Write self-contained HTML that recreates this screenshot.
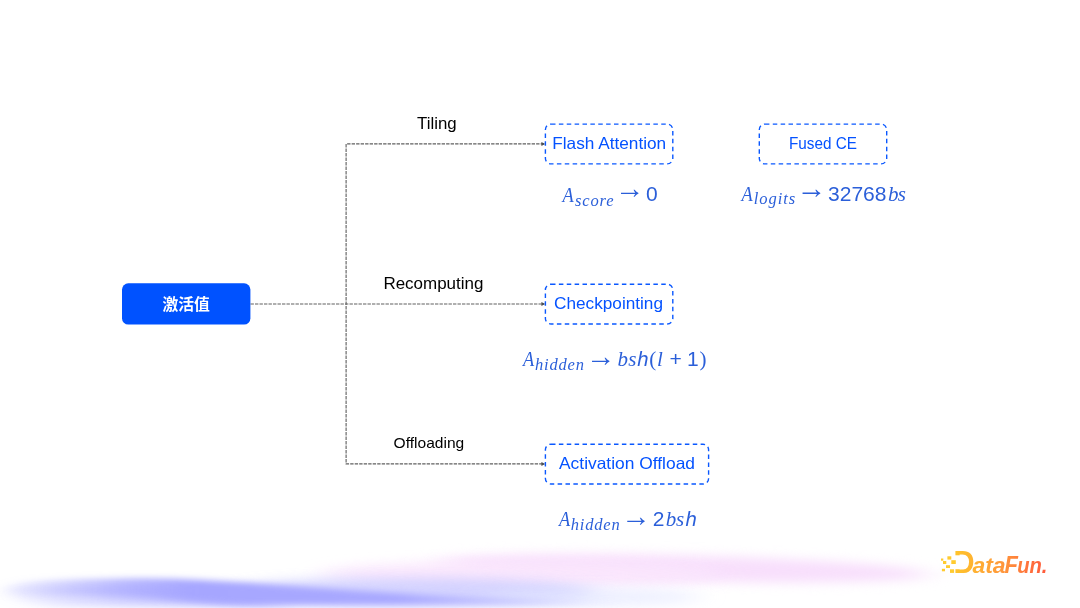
<!DOCTYPE html>
<html lang="zh">
<head>
<meta charset="utf-8">
<title>激活值</title>
<style>
html,body{margin:0;padding:0;background:#fff;}
body{width:1080px;height:608px;overflow:hidden;position:relative;font-family:"Liberation Sans","Noto Sans CJK SC",sans-serif;}
svg{will-change:transform;position:absolute;left:0;top:0;display:block;}
.sans{font-family:"Liberation Sans","Noto Sans CJK SC",sans-serif;}
.cjk{font-family:"Liberation Sans","Noto Sans CJK SC",sans-serif;font-weight:bold;}
.mi{font-family:"Liberation Serif",serif;font-style:italic;}
.gl{stroke:#606060;stroke-width:1.125;stroke-dasharray:3.375 1.125;fill:none;}
.bx{stroke:#0a58ff;stroke-width:1.4;stroke-dasharray:4.5 3.375;fill:none;}
.bt{fill:#0452ff;font-size:16.5px;}
.fm{fill:#2b5fd9;}
</style>
</head>
<body>
<svg width="1080" height="608" viewBox="0 0 1080 608">
<defs>
<filter id="bl2" x="-20%" y="-200%" width="140%" height="500%"><feGaussianBlur stdDeviation="14 6"/></filter>
<linearGradient id="lg" gradientUnits="userSpaceOnUse" x1="953" y1="0" x2="1046" y2="0"><stop offset="0" stop-color="#ffc62a"/><stop offset="0.5" stop-color="#ff9a3a"/><stop offset="1" stop-color="#ff5a3c"/></linearGradient>
<filter id="bl3" x="-10%" y="-300%" width="120%" height="700%"><feGaussianBlur stdDeviation="8 3.1"/></filter>
<linearGradient id="bg1" gradientUnits="userSpaceOnUse" x1="0" y1="0" x2="640" y2="0"><stop offset="0.01" stop-color="#b0b0ff" stop-opacity="0.22"/><stop offset="0.08" stop-color="#acacff" stop-opacity="0.45"/><stop offset="0.2" stop-color="#a8a8ff" stop-opacity="0.8"/><stop offset="0.3" stop-color="#a6a6ff" stop-opacity="1"/><stop offset="0.62" stop-color="#a8a8ff" stop-opacity="1"/><stop offset="0.8" stop-color="#b4b4ff" stop-opacity="0.6"/><stop offset="1" stop-color="#c0c0ff" stop-opacity="0"/></linearGradient>
<filter id="bl4" x="-20%" y="-200%" width="140%" height="500%"><feGaussianBlur stdDeviation="16 5.5"/></filter>
<filter id="bl5" x="-20%" y="-200%" width="140%" height="500%"><feGaussianBlur stdDeviation="12 4.5"/></filter>
</defs>
<!-- bottom decoration -->
<g id="deco">
<ellipse cx="684" cy="568.5" rx="245" ry="13" fill="#f8dffc" filter="url(#bl4)" transform="rotate(1.4 690 568)"/>
<ellipse cx="520" cy="574" rx="200" ry="13" fill="#fae6fd" opacity="0.9" filter="url(#bl2)"/>
<ellipse cx="410" cy="592" rx="185" ry="14" fill="#c6c6ff" opacity="0.75" filter="url(#bl2)"/>
<ellipse cx="590" cy="597" rx="110" ry="9" fill="#e2e6ff" opacity="0.6" filter="url(#bl2)"/>
<path d="M10 594 C40 587 120 585 190 590 C230 594 260 600 300 606 L60 606 C30 604 14 600 10 594 Z" fill="url(#bg1)" opacity="0.75" filter="url(#bl5)"/>
<path d="M6 590 C8 582 40 579.5 120 578.5 C180 577.5 220 581 290 586 C360 591 440 597 640 603.5 L640 604.8 L250 604.8 C225 604.5 200 602 160 598 C110 594 50 596 6 594 Z" fill="url(#bg1)" filter="url(#bl3)"/>
</g>
<!-- logo -->
<g id="logo">
<text><tspan x="953.4" y="572.8" font-size="32" font-weight="bold" class="sans" fill="url(#lg)" textLength="21" lengthAdjust="spacingAndGlyphs">D</tspan><tspan x="972.4" y="572.7" font-size="22.7" font-weight="bold" font-style="italic" class="sans" fill="url(#lg)" textLength="33.2" lengthAdjust="spacingAndGlyphs">ata</tspan><tspan x="1004.6" y="572.8" font-size="23" font-weight="bold" font-style="italic" class="sans" fill="url(#lg)" textLength="13.4" lengthAdjust="spacingAndGlyphs">F</tspan><tspan x="1017.2" y="572.7" font-size="22.7" font-weight="bold" font-style="italic" class="sans" fill="url(#lg)" textLength="30.2" lengthAdjust="spacingAndGlyphs">un.</tspan></text>
<rect x="952" y="555.3" width="8.4" height="13.9" fill="#fff"/>
<g fill="#ffcb2f">
<rect x="941" y="558.5" width="2.3" height="2.2"/>
<rect x="947.4" y="556.3" width="3.9" height="3.3"/>
<rect x="943" y="561" width="3.3" height="3"/>
<rect x="951.3" y="560.2" width="4.5" height="3.8"/>
<rect x="946" y="565.2" width="4" height="2.8"/>
<rect x="941.9" y="568.8" width="3.1" height="2.5"/>
<rect x="950" y="569.3" width="4.1" height="3.6"/>
</g>
</g>
<!-- connectors -->
<path class="gl" d="M250.5 304H544"/>
<path class="gl" d="M544 143.9H346.1V463.9H544"/>
<path d="M545.2 143.9l-3.8 -2v4z M545.2 304l-3.8 -2v4z M545.2 463.9l-3.8 -2v4z" fill="#505050"/>
<!-- root -->
<rect x="122" y="283.3" width="128.4" height="41.3" rx="6.3" fill="#0052ff"/>
<text class="cjk" x="186.2" y="309.6" font-size="15.8" fill="#fff" text-anchor="middle">激活值</text>
<!-- labels -->
<text class="sans" x="417" y="128.7" font-size="16" fill="#000" textLength="39.6" lengthAdjust="spacingAndGlyphs">Tiling</text>
<text class="sans" x="383.4" y="289" font-size="16" fill="#000" textLength="100" lengthAdjust="spacingAndGlyphs">Recomputing</text>
<text class="sans" x="393.6" y="447.6" font-size="15.55" fill="#000">Offloading</text>
<!-- boxes -->
<rect class="bx" x="545.4" y="124.1" width="127.4" height="39.8" rx="5.6"/>
<text class="sans bt" x="552.2" y="148.8" textLength="114" lengthAdjust="spacingAndGlyphs">Flash Attention</text>
<rect class="bx" x="759.3" y="124.1" width="127.4" height="39.8" rx="5.6"/>
<text class="sans bt" x="789" y="148.8" textLength="68" lengthAdjust="spacingAndGlyphs">Fused CE</text>
<rect class="bx" x="545.4" y="284.2" width="127.4" height="39.8" rx="5.6"/>
<text class="sans bt" x="554" y="309" textLength="109" lengthAdjust="spacingAndGlyphs">Checkpointing</text>
<rect class="bx" x="545.4" y="444.2" width="163.2" height="39.8" rx="5.6"/>
<text class="sans bt" x="559" y="468.8" textLength="136" lengthAdjust="spacingAndGlyphs">Activation Offload</text>
<!-- formulas -->
<g class="fm">
<!-- formula 1 -->
<text><tspan class="mi" x="562.6" y="201.8" font-size="21" textLength="11.2" lengthAdjust="spacingAndGlyphs">A</tspan><tspan class="mi" x="575" y="205.6" font-size="16.5" textLength="38.5" lengthAdjust="spacing">score</tspan> <tspan class="sans" x="615.1" y="197.9" font-size="29.5">→</tspan> <tspan class="sans" x="646" y="201.3" font-size="21">0</tspan></text>
<!-- formula 2 -->
<text><tspan class="mi" x="741.6" y="201.2" font-size="21" textLength="11.2" lengthAdjust="spacingAndGlyphs">A</tspan><tspan class="mi" x="753.8" y="204.2" font-size="16.5" textLength="41.3" lengthAdjust="spacing">logits</tspan> <tspan class="sans" x="796.6" y="197.5" font-size="30">→</tspan> <tspan class="sans" x="828" y="200.9" font-size="21" textLength="58.5" lengthAdjust="spacingAndGlyphs">32768</tspan><tspan class="mi" x="888" y="201" font-size="21" textLength="18" lengthAdjust="spacing">bs</tspan></text>
<!-- formula 3 -->
<text><tspan class="mi" x="523.1" y="365.9" font-size="21" textLength="11.2" lengthAdjust="spacingAndGlyphs">A</tspan><tspan class="mi" x="534.9" y="369.8" font-size="16.5" textLength="49" lengthAdjust="spacing">hidden</tspan> <tspan class="sans" x="586" y="366" font-size="29.5">→</tspan> <tspan class="mi" x="617.5" y="365.8" font-size="21" textLength="19" lengthAdjust="spacing">bs</tspan><tspan class="sans" x="637.2" y="365.8" font-size="20.3" font-style="italic">h</tspan><tspan x="649.3" y="365.8" font-size="21" font-family="'Liberation Serif',serif">(</tspan><tspan class="mi" x="657.1" y="365.8" font-size="21">l</tspan> <tspan class="sans" x="669.5" y="365.8" font-size="21">+</tspan> <tspan class="sans" x="687" y="365.8" font-size="21">1</tspan><tspan x="699.4" y="365.8" font-size="21" font-family="'Liberation Serif',serif">)</tspan></text>
<!-- formula 4 -->
<text><tspan class="mi" x="558.9" y="526.4" font-size="21" textLength="11.2" lengthAdjust="spacingAndGlyphs">A</tspan><tspan class="mi" x="570.7" y="530" font-size="16.5" textLength="49" lengthAdjust="spacing">hidden</tspan> <tspan class="sans" x="621.3" y="525.6" font-size="29.5">→</tspan> <tspan class="sans" x="652.7" y="526.2" font-size="21">2</tspan><tspan class="mi" x="665.7" y="526.2" font-size="21" textLength="18.4" lengthAdjust="spacing">bs</tspan><tspan class="sans" x="685.5" y="526.2" font-size="20.3" font-style="italic">h</tspan></text>
</g>
</svg>
</body>
</html>
